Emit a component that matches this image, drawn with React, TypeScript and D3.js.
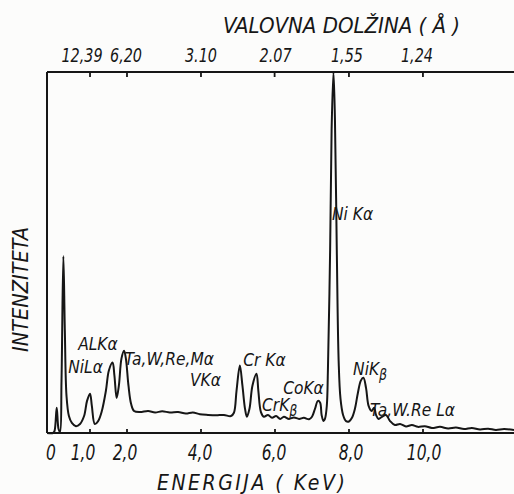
import React from "react";
import * as d3 from "d3";

// ---- data ----
const energyKeV = [
  -0.16, 0.0, 0.04, 0.10, 0.15, 0.19, 0.23, 0.28, 0.32, 0.365, 0.43, 0.51, 0.62, 0.73, 0.84, 0.92,
  1.0, 1.05, 1.13, 1.22, 1.32, 1.43, 1.51, 1.61, 1.66, 1.72, 1.78, 1.85, 1.92, 1.97, 2.04, 2.11,
  2.19, 2.35, 2.57, 2.76, 2.95, 3.16, 3.38, 3.59, 3.78, 3.97, 4.19, 4.41, 4.62, 4.81, 4.89, 4.96,
  5.05, 5.12, 5.19, 5.24, 5.31, 5.39, 5.50, 5.55, 5.62, 5.70, 5.81, 5.92, 6.03, 6.14, 6.24, 6.38,
  6.51, 6.65, 6.78, 6.92, 7.0, 7.08, 7.16, 7.22, 7.26, 7.31, 7.35, 7.40, 7.43, 7.49, 7.53, 7.58,
  7.62, 7.67, 7.72, 7.77, 7.84, 7.92, 8.0, 8.08, 8.16, 8.24, 8.32, 8.39, 8.46, 8.53, 8.61, 8.68,
  8.73, 8.80, 8.89, 9.0, 9.11, 9.24, 9.38, 9.54, 9.70, 9.86, 10.05, 10.24, 10.46, 10.68, 10.89,
  11.11, 11.32, 11.54, 11.76, 11.97, 12.19, 12.46,
];
const intensity = [
  0, 0, 0.5, 7, 1.1, 0.3, 14.5, 49, 28.4, 10.3, 4.7, 2.8, 1.9, 2.5, 4.7, 8.9,
  10.9, 7.5, 2.5, 3.3, 6.1, 11.7, 17.3, 19.5, 15.9, 9.7, 13.1, 20.6, 22.8, 20.6, 13.1, 8.1,
  6.1, 5.8, 6.1, 5.7, 6.0, 5.7, 5.8, 5.4, 5.7, 5.2, 5.0, 4.9, 5.0, 4.7, 5.6, 11.7,
  18.7, 13.1, 6.7, 4.5, 6.7, 13.1, 16.4, 11.7, 5.8, 4.5, 5.0, 4.2, 4.7, 3.9, 4.5, 3.9,
  4.3, 3.9, 4.2, 3.8, 4.5, 6.7, 8.9, 8.4, 5.0, 3.3, 3.9, 7.5, 17.3, 50.7, 84, 100,
  87, 50.7, 20, 9.5, 5.0, 3.3, 3.2, 4.2, 6.7, 11.1, 14.5, 15.3, 12.5, 7.5, 6.1, 7.0,
  5.0, 3.9, 4.5, 5.0, 3.3, 2.2, 2.5, 1.8, 2.2, 1.7, 1.9, 1.4, 1.7, 1.25, 1.5,
  1.1, 1.4, 1.0, 1.2, 0.85, 1.1, 0.85,
];

const energyTicks = [0, 1, 2, 4, 6, 8, 10];
const energyTickLabels = ["0", "1,0", "2,0", "4,0", "6,0", "8,0", "10,0"];
const wavelengthTicks = [12.39, 6.2, 3.1, 2.07, 1.55, 1.24];
const wavelengthTickLabels = ["12,39", "6,20", "3.10", "2.07", "1,55", "1,24"];

const peakLabelText = ["Ni Kα", "ALKα", "NiLα", "Ta,W,Re,Mα", "VKα", "Cr Kα", "CrK", "CoKα", "NiK", "Ta,W.Re Lα"];
const peakLabelSub = ["", "", "", "", "", "", "β", "", "β", ""];
const peakLabelEnergy = [7.54, 0.68, 0.41, 1.93, 3.7, 5.14, 5.65, 6.22, 8.11, 8.57];
const peakLabelIntensity = [59, 23, 16.7, 18.8, 13, 18.6, 6.0, 10.9, 16.2, 4.7];

const FONT = "'DejaVu Sans Condensed', 'DejaVu Sans', sans-serif";
const INK = "#161616";

function Txt(props: {
  x: number; y: number; size: number; sx?: number; rotate?: number; anchor?: string; ls?: number;
  children: React.ReactNode;
}) {
  const { x, y, size, sx = 1, rotate = 0, anchor = "start", ls = 0, children } = props;
  return (
    <text
      transform={`translate(${x},${y}) rotate(${rotate}) scale(${sx},1)`}
      fontFamily={FONT}
      fontStyle="italic"
      fontSize={size}
      letterSpacing={ls}
      fill={INK}
      textAnchor={anchor}
    >
      {children}
    </text>
  );
}

export default function App() {
  const W = 514, H = 494;
  const left = 47, top = 72, bottom = 433, right = 514;
  const x = d3.scaleLinear().domain([0, 10]).range([53, 423]);
  const y = d3.scaleLinear().domain([0, 100]).range([bottom, top]);

  const pts: [number, number][] = energyKeV.map((e, i) => [e, intensity[i]]);
  const line = d3
    .line<[number, number]>()
    .x((d) => x(d[0]))
    .y((d) => y(d[1]))
    .curve(d3.curveCatmullRom.alpha(0.5));

  const topDx = [-8, -1, 0, 1, -2, -6];
  const botDx = [-2, -7, -2, -1, -1, 2, 1];

  return (
    <svg
      width={W}
      height={H}
      style={{ position: "absolute", left: 0, top: 0, background: "#fcfcfb" }}
    >
      {/* frame */}
      <line x1={left} y1={top} x2={right} y2={top} stroke={INK} strokeWidth={2} />
      <line x1={left} y1={top} x2={left} y2={bottom} stroke={INK} strokeWidth={2} />
      <line x1={left} y1={bottom} x2={right} y2={bottom} stroke={INK} strokeWidth={2} />

      {/* top wavelength ticks */}
      {wavelengthTicks.map((w, i) => {
        const xx = x(12.398 / w);
        return (
          <g key={"wt" + i}>
            <line x1={xx} y1={top} x2={xx} y2={top + 5} stroke={INK} strokeWidth={1.8} />
            <Txt x={xx + topDx[i]} y={62} size={20} sx={0.8} anchor="middle">
              {wavelengthTickLabels[i]}
            </Txt>
          </g>
        );
      })}

      {/* bottom energy ticks */}
      {energyTicks.map((e, i) => {
        const xx = x(e);
        return (
          <g key={"et" + i}>
            {e > 0 && <line x1={xx} y1={bottom} x2={xx} y2={bottom - 4} stroke={INK} strokeWidth={1.8} />}
            <Txt x={xx + botDx[i]} y={460} size={21} sx={0.82} anchor="middle">
              {energyTickLabels[i]}
            </Txt>
          </g>
        );
      })}

      {/* spectrum */}
      <path d={line(pts) || ""} fill="none" stroke={INK} strokeWidth={2} strokeLinejoin="round" />

      {/* peak labels */}
      {peakLabelText.map((t, i) => (
        <Txt key={"pl" + i} x={x(peakLabelEnergy[i])} y={y(peakLabelIntensity[i])} size={18.5} sx={0.93}>
          {t}
          {peakLabelSub[i] && (
            <tspan dy={5} fontSize={15}>
              {peakLabelSub[i]}
            </tspan>
          )}
        </Txt>
      ))}

      {/* axis titles */}
      <Txt x={223} y={33} size={22} sx={1.0}>
        VALOVNA  DOLŽINA ( Å )
      </Txt>
      <Txt x={157} y={490} size={21} sx={1.0} ls={2.5}>
        ENERGIJA  ( KeV)
      </Txt>
      <Txt x={28} y={352} size={22} sx={0.98} rotate={-90}>
        INTENZITETA
      </Txt>
    </svg>
  );
}
